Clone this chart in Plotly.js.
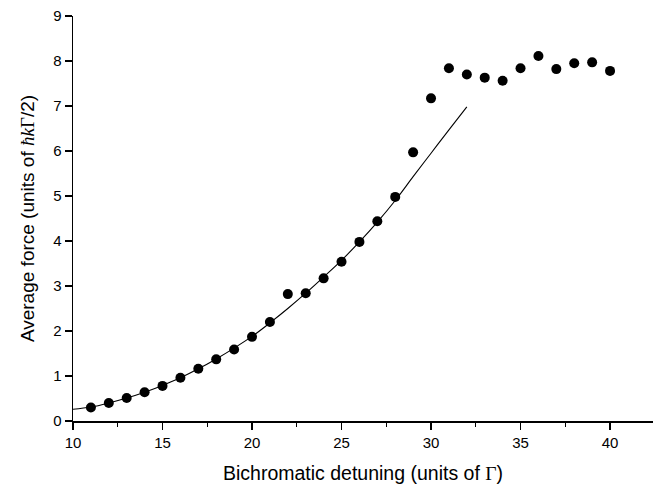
<!DOCTYPE html>
<html>
<head>
<meta charset="utf-8">
<script src="https://cdn.plot.ly/plotly-3.0.1.min.js"></script>
<style>html,body{margin:0;padding:0;background:#fff;}</style>
</head>
<body>
<div id="chart" style="width:653px;height:485px;"></div>
<script>
// Measured data points
const detuning = [11,12,13,14,15,16,17,18,19,20,21,22,23,24,25,26,27,28,29,30,31,32,33,34,35,36,37,38,39,40];
const force = [0.30,0.40,0.51,0.64,0.78,0.96,1.16,1.37,1.59,1.87,2.20,2.82,2.84,3.17,3.54,3.98,4.44,4.98,5.97,7.17,7.84,7.70,7.63,7.56,7.84,8.11,7.82,7.95,7.97,7.78];
// Fitted curve
const fitX = [10,11,12,13,14,15,16,17,18,19,20,21,22,23,24,25,26,27,28,29,30,31,32];
const fitY = [0.26,0.31,0.40,0.51,0.64,0.79,0.96,1.16,1.38,1.62,1.88,2.18,2.50,2.84,3.20,3.57,3.98,4.42,4.90,5.43,5.95,6.47,6.98];
const xTicks = [10,15,20,25,30,35,40];
const yTicks = [0,1,2,3,4,5,6,7,8,9];

const font = "Liberation Sans, Arial, sans-serif";
const serif = "Liberation Serif, Times New Roman, serif";

Plotly.newPlot('chart', [
  {x: fitX, y: fitY, mode: 'lines', line: {color: '#000', width: 1.1, shape: 'spline'}, hoverinfo: 'skip'},
  {x: detuning, y: force, mode: 'markers', marker: {color: '#000', size: 10}}
], {
  width: 653, height: 485,
  margin: {l: 73, r: 0, t: 16, b: 64},
  showlegend: false,
  paper_bgcolor: '#fff', plot_bgcolor: '#fff',
  font: {family: font, color: '#000', size: 15},
  xaxis: {
    range: [10, 42.4], tickvals: xTicks, ticktext: xTicks.map(String),
    showgrid: false, zeroline: false, showline: true, linecolor: '#000', linewidth: 1.5,
    ticks: 'outside', ticklen: 7, tickwidth: 1.5, tickcolor: '#000',
    minor: {dtick: 2.5, tick0: 10, ticks: 'outside', ticklen: 4, tickwidth: 1.2, tickcolor: '#000', showgrid: false},
    tickfont: {size: 15, family: font},
    title: {text: 'Bichromatic detuning (units of <span style="font-family:' + serif + '">Γ</span>)', font: {size: 19.5, family: font}, standoff: 17}
  },
  yaxis: {
    range: [0, 9], tickvals: yTicks, ticktext: yTicks.map(String),
    showgrid: false, zeroline: false, showline: true, linecolor: '#000', linewidth: 1.5,
    ticks: 'outside', ticklen: 7, tickwidth: 1.5, tickcolor: '#000',
    tickfont: {size: 15, family: font},
    title: {text: 'Average force (units of <i><span style="font-family:' + serif + '">ħk</span></i><span style="font-family:' + serif + '">Γ</span>/2)', font: {size: 19, family: font}, standoff: 13}
  }
}, {displayModeBar: false, staticPlot: true});
</script>
</body>
</html>
